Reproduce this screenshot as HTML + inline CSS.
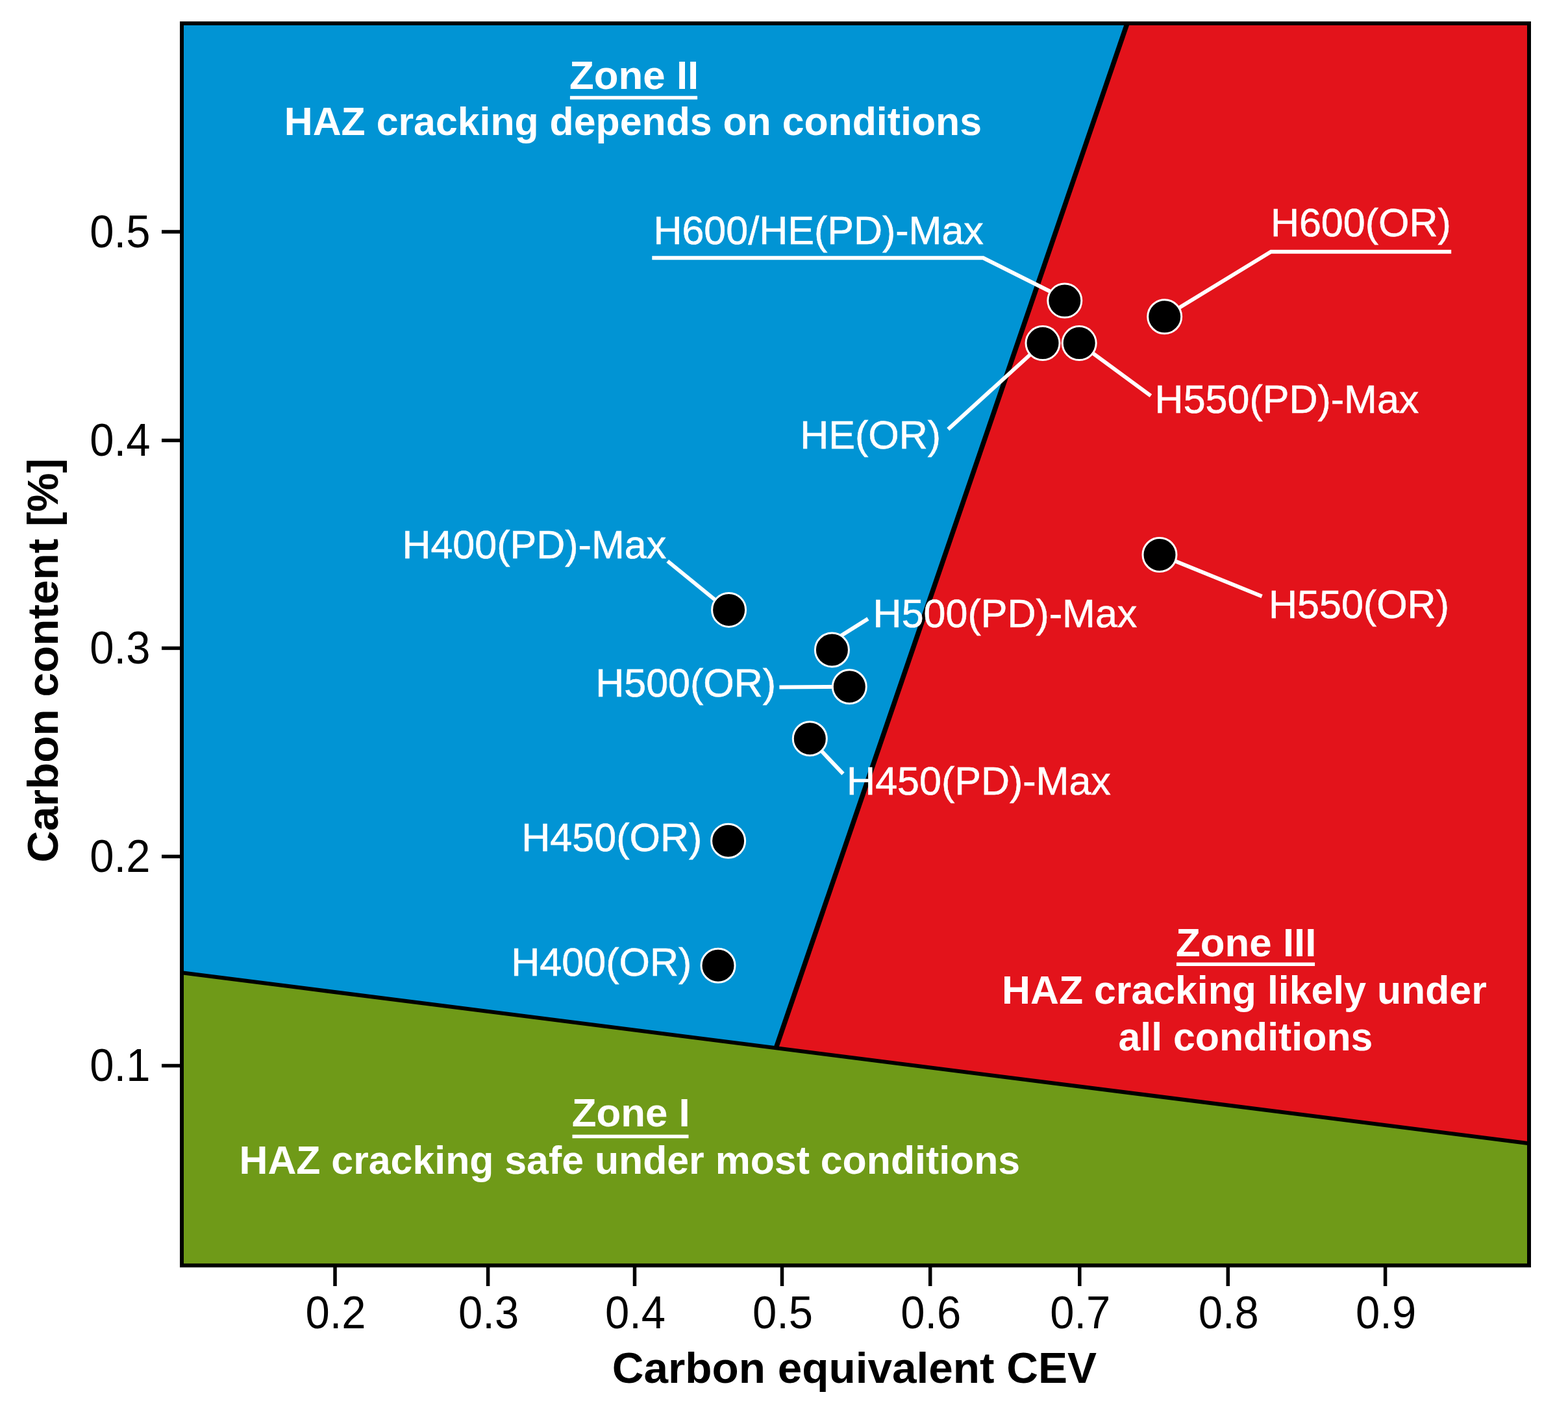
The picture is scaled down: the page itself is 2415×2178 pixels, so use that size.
<!DOCTYPE html>
<html><head><meta charset="utf-8"><title>HAZ cracking zones</title>
<style>html,body{margin:0;padding:0;background:#fff;}svg{display:block;}</style></head>
<body>
<svg width="2415" height="2178" viewBox="0 0 2415 2178">
<rect width="2415" height="2178" fill="#fff"/>
<polygon points="280,1498.2 2355,1761.3 2355,1949.2 280,1949.2" fill="#6f9a18"/>
<polygon points="280,36.0 1736.1,36.0 1195.2,1614.2 280,1498.2" fill="#0194d4"/>
<polygon points="1736.1,36.0 2355,36.0 2355,1761.3 1195.2,1614.2" fill="#e3131b"/>
<line x1="280" y1="1498.2" x2="2355" y2="1761.3" stroke="#000" stroke-width="6"/>
<line x1="1736.1" y1="36.0" x2="1195.2" y2="1614.2" stroke="#000" stroke-width="7.5"/>
<rect x="280" y="36.0" width="2075" height="1913.2" fill="none" stroke="#000" stroke-width="6"/>
<line x1="249" y1="357.0" x2="280" y2="357.0" stroke="#000" stroke-width="5.5"/>
<line x1="249" y1="678.4" x2="280" y2="678.4" stroke="#000" stroke-width="5.5"/>
<line x1="249" y1="998.4" x2="280" y2="998.4" stroke="#000" stroke-width="5.5"/>
<line x1="249" y1="1319.3" x2="280" y2="1319.3" stroke="#000" stroke-width="5.5"/>
<line x1="249" y1="1641.5" x2="280" y2="1641.5" stroke="#000" stroke-width="5.5"/>
<line x1="516" y1="1949.2" x2="516" y2="1981" stroke="#000" stroke-width="5.5"/>
<line x1="751.6" y1="1949.2" x2="751.6" y2="1981" stroke="#000" stroke-width="5.5"/>
<line x1="977.5" y1="1949.2" x2="977.5" y2="1981" stroke="#000" stroke-width="5.5"/>
<line x1="1204.5" y1="1949.2" x2="1204.5" y2="1981" stroke="#000" stroke-width="5.5"/>
<line x1="1432.7" y1="1949.2" x2="1432.7" y2="1981" stroke="#000" stroke-width="5.5"/>
<line x1="1662.8" y1="1949.2" x2="1662.8" y2="1981" stroke="#000" stroke-width="5.5"/>
<line x1="1891.3" y1="1949.2" x2="1891.3" y2="1981" stroke="#000" stroke-width="5.5"/>
<line x1="2133.6" y1="1949.2" x2="2133.6" y2="1981" stroke="#000" stroke-width="5.5"/>
<g font-family="'Liberation Sans', Arial, Helvetica, sans-serif">
<text transform="translate(231.4,380.5) scale(1,1.05)" text-anchor="end" font-size="67">0.5</text>
<text transform="translate(231.4,701.9) scale(1,1.05)" text-anchor="end" font-size="67">0.4</text>
<text transform="translate(231.4,1021.9) scale(1,1.05)" text-anchor="end" font-size="67">0.3</text>
<text transform="translate(231.4,1342.8) scale(1,1.05)" text-anchor="end" font-size="67">0.2</text>
<text transform="translate(231.4,1665.0) scale(1,1.05)" text-anchor="end" font-size="67">0.1</text>
<text transform="translate(517.0,2046.0) scale(1,1.05)" text-anchor="middle" font-size="67">0.2</text>
<text transform="translate(752.6,2046.0) scale(1,1.05)" text-anchor="middle" font-size="67">0.3</text>
<text transform="translate(978.5,2046.0) scale(1,1.05)" text-anchor="middle" font-size="67">0.4</text>
<text transform="translate(1205.5,2046.0) scale(1,1.05)" text-anchor="middle" font-size="67">0.5</text>
<text transform="translate(1433.7,2046.0) scale(1,1.05)" text-anchor="middle" font-size="67">0.6</text>
<text transform="translate(1663.8,2046.0) scale(1,1.05)" text-anchor="middle" font-size="67">0.7</text>
<text transform="translate(1892.3,2046.0) scale(1,1.05)" text-anchor="middle" font-size="67">0.8</text>
<text transform="translate(2134.6,2046.0) scale(1,1.05)" text-anchor="middle" font-size="67">0.9</text>
<text x="942.7" y="2130.2" font-size="67.5" font-weight="bold" fill="#000" >Carbon equivalent CEV</text>
<text transform="translate(89,1328.5) rotate(-90)" x="0" y="0" font-size="67.5" font-weight="bold">Carbon content [%]</text>
</g>
<polyline points="1004.3,397.2 1514.3,397.2 1626.5,453.5" fill="none" stroke="#fff" stroke-width="6" stroke-linejoin="miter"/>
<polyline points="1460.3,661.2 1606.0,528.6" fill="none" stroke="#fff" stroke-width="6" stroke-linejoin="miter"/>
<polyline points="1662.2,528.6 1772.4,609.6" fill="none" stroke="#fff" stroke-width="6" stroke-linejoin="miter"/>
<polyline points="2235.2,387.7 1957.5,387.7 1793.7,487.8" fill="none" stroke="#fff" stroke-width="6" stroke-linejoin="miter"/>
<polyline points="1786.0,854.5 1943.6,918.5" fill="none" stroke="#fff" stroke-width="6" stroke-linejoin="miter"/>
<polyline points="1028.2,864.2 1110.0,931.0" fill="none" stroke="#fff" stroke-width="6" stroke-linejoin="miter"/>
<polyline points="1336.9,953.1 1290.0,982.5" fill="none" stroke="#fff" stroke-width="6" stroke-linejoin="miter"/>
<polyline points="1200.4,1058.5 1308.3,1057.7" fill="none" stroke="#fff" stroke-width="6" stroke-linejoin="miter"/>
<polyline points="1247.3,1137.8 1298.5,1191.9" fill="none" stroke="#fff" stroke-width="6" stroke-linejoin="miter"/>
<circle cx="1639.8" cy="463.1" r="26" fill="#000" stroke="#fff" stroke-width="3"/>
<circle cx="1606" cy="528.6" r="26" fill="#000" stroke="#fff" stroke-width="3"/>
<circle cx="1662.2" cy="528.6" r="26" fill="#000" stroke="#fff" stroke-width="3"/>
<circle cx="1793.7" cy="487.8" r="26" fill="#000" stroke="#fff" stroke-width="3"/>
<circle cx="1786" cy="854.5" r="26" fill="#000" stroke="#fff" stroke-width="3"/>
<circle cx="1122.6" cy="939.4" r="26" fill="#000" stroke="#fff" stroke-width="3"/>
<circle cx="1281.4" cy="1001" r="26" fill="#000" stroke="#fff" stroke-width="3"/>
<circle cx="1308.3" cy="1057.7" r="26" fill="#000" stroke="#fff" stroke-width="3"/>
<circle cx="1247.3" cy="1137.8" r="26" fill="#000" stroke="#fff" stroke-width="3"/>
<circle cx="1121.6" cy="1295.2" r="26" fill="#000" stroke="#fff" stroke-width="3"/>
<circle cx="1106" cy="1487.2" r="26" fill="#000" stroke="#fff" stroke-width="3"/>
<g font-family="'Liberation Sans', Arial, Helvetica, sans-serif" fill="#fff" stroke="#fff" stroke-width="0.6">
<text x="1006.4" y="376.0" font-size="61" fill="#fff" >H600/HE(PD)-Max</text>
<text x="1956.9" y="363.8" font-size="61" fill="#fff" >H600(OR)</text>
<text x="1232.3" y="691.0" font-size="61" fill="#fff" >HE(OR)</text>
<text x="1778.6" y="636.4" font-size="61" fill="#fff" >H550(PD)-Max</text>
<text x="619.4" y="859.8" font-size="61" fill="#fff" >H400(PD)-Max</text>
<text x="1344.6" y="966.0" font-size="61" fill="#fff" >H500(PD)-Max</text>
<text x="917.2" y="1072.6" font-size="61" fill="#fff" >H500(OR)</text>
<text x="1304.1" y="1223.9" font-size="61" fill="#fff" >H450(PD)-Max</text>
<text x="803.3" y="1310.8" font-size="61" fill="#fff" >H450(OR)</text>
<text x="787.3" y="1503.3" font-size="61" fill="#fff" >H400(OR)</text>
<text x="1954.0" y="952.0" font-size="61" fill="#fff" >H550(OR)</text>
</g>
<g font-family="'Liberation Sans', Arial, Helvetica, sans-serif" fill="#fff">
<text x="877.1" y="136.6" font-size="61.8" font-weight="bold" fill="#fff" >Zone II</text>
<line x1="877.9" y1="150.5" x2="1074.1" y2="150.5" stroke="#fff" stroke-width="5.5"/>
<text x="437.8" y="208.1" font-size="60.8" font-weight="bold" fill="#fff" >HAZ cracking depends on conditions</text>
<text x="1811.1" y="1473.3" font-size="61.8" font-weight="bold" fill="#fff" >Zone III</text>
<line x1="1811.9" y1="1485.2" x2="2025.1" y2="1485.2" stroke="#fff" stroke-width="5.5"/>
<text x="1543.1" y="1545.7" font-size="60.8" font-weight="bold" fill="#fff" >HAZ cracking likely under</text>
<text x="1722.5" y="1618.1" font-size="60.8" font-weight="bold" fill="#fff" >all conditions</text>
<text x="880.8" y="1735.0" font-size="61.8" font-weight="bold" fill="#fff" >Zone I</text>
<line x1="881.5" y1="1750.5" x2="1060.5" y2="1750.5" stroke="#fff" stroke-width="5.5"/>
<text x="368.5" y="1808.0" font-size="60.8" font-weight="bold" fill="#fff" >HAZ cracking safe under most conditions</text>
</g>
</svg>
</body></html>
